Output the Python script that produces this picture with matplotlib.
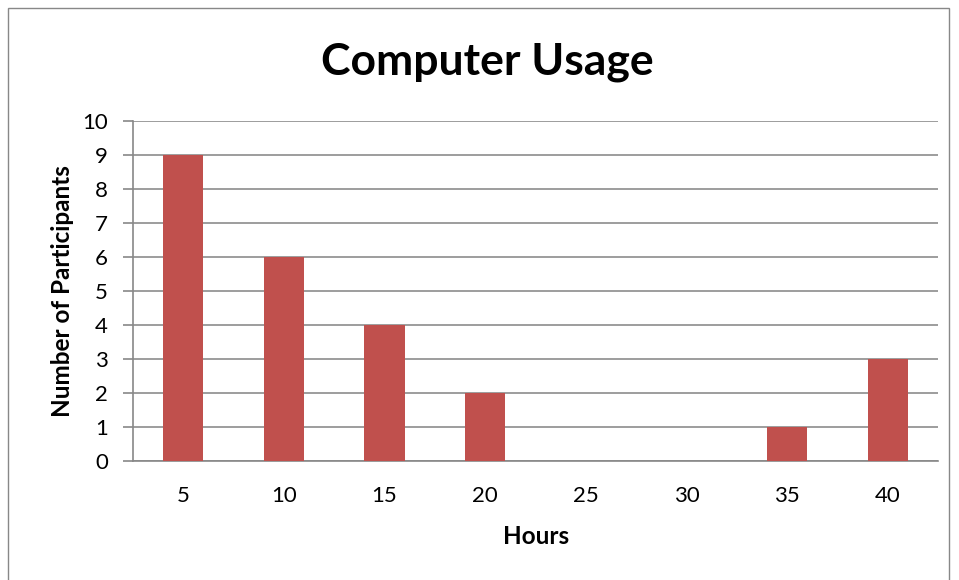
import matplotlib.pyplot as plt
from matplotlib.patches import Rectangle
import numpy as np

hours = ['5', '10', '15', '20', '25', '30', '35', '40']
participants = [9, 6, 4, 2, 0, 0, 1, 3]

plt.rcParams['font.family'] = ['Lato', 'DejaVu Sans']

fig = plt.figure(figsize=(9.59, 5.80), dpi=100)
ax = fig.add_axes([133/959, 1-461/580, (938-133)/959, 340/580])

x = np.arange(len(hours))
ax.bar(x, participants, width=0.4, color='#c0504d', zorder=3)
ax.set_xlim(-0.5, len(hours) - 0.5)
ax.set_ylim(0, 10)
ax.set_yticks(range(0, 11))
ax.set_xticks(x)
ax.set_xticklabels(hours)
ax.tick_params(axis='x', length=0, pad=18, labelsize=16)
ax.tick_params(axis='y', length=7, width=1.2, color='#888888', pad=11, labelsize=16)
ax.grid(axis='y', color='#8c8c8c', linewidth=1.2, zorder=0)
for s in ['top', 'right']:
    ax.spines[s].set_visible(False)
ax.spines['left'].set_color('#888888')
ax.spines['left'].set_linewidth(1.2)
ax.spines['bottom'].set_color('#888888')
ax.spines['bottom'].set_linewidth(1.2)

fig.text(487/959, 1-62/580, 'Computer Usage', ha='center', va='center',
         fontsize=32, fontweight='bold')
fig.text(62/959, 1-291/580, 'Number of Participants', ha='center', va='center',
         rotation=90, fontsize=17.5, fontweight='bold')
fig.text(536/959, 1-537/580, 'Hours', ha='center', va='center',
         fontsize=17.5, fontweight='bold')

fig.patches.append(Rectangle((8/959, -0.1), (949-8)/959, 1 - 8/580 + 0.1,
                             transform=fig.transFigure, fill=False,
                             edgecolor='#888888', linewidth=1.0))

fig.savefig('out.png', dpi=100)
